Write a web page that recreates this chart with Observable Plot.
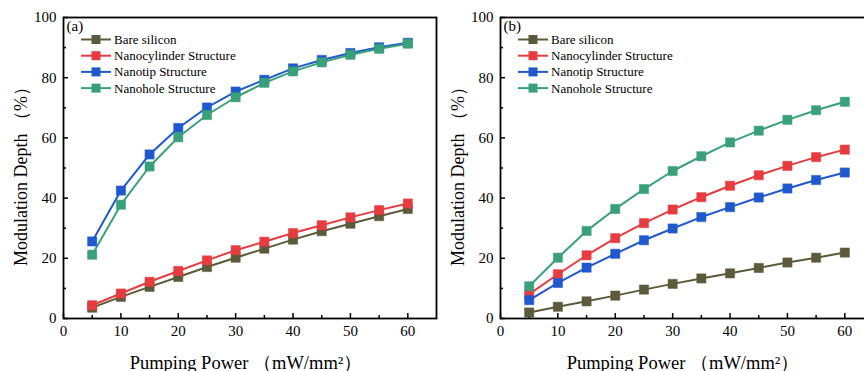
<!DOCTYPE html>
<html>
<head>
<meta charset="utf-8">
<script src="https://cdn.jsdelivr.net/npm/d3@7"></script>
<script src="https://cdn.jsdelivr.net/npm/@observablehq/plot@0.6"></script>
<style>
  html, body { margin: 0; padding: 0; background: #fff; }
  #wrap { position: relative; width: 864px; height: 371px; overflow: hidden; background: #fff; }
  .panel { position: absolute; top: 0; width: 440px; height: 371px; }
  .panel svg { max-width: none !important; }
  .legend { position: absolute; left: 0; top: 0; pointer-events: none; }
</style>
</head>
<body>
<div id="wrap">
  <div class="panel" id="pa" style="left:0px"></div>
  <div class="panel" id="pb" style="left:437px"></div>
</div>
<script>
// ---- data ----
const power = [5, 10, 15, 20, 25, 30, 35, 40, 45, 50, 55, 60];
const seriesNames = ["Bare silicon", "Nanocylinder Structure", "Nanotip Structure", "Nanohole Structure"];
const seriesColors = ["#5c5a3a", "#e63c40", "#1f59cc", "#3aa07a"];

const aBare = [3.6, 7.2, 10.5, 13.8, 17.1, 20.2, 23.2, 26.2, 29.0, 31.5, 34.0, 36.4];
const aCyl  = [4.4, 8.3, 12.2, 15.8, 19.3, 22.7, 25.5, 28.4, 31.0, 33.6, 36.0, 38.2];
const aTip  = [25.6, 42.5, 54.5, 63.3, 70.1, 75.4, 79.3, 83.1, 85.9, 88.2, 90.1, 91.6];
const aHole = [21.2, 37.8, 50.5, 60.2, 67.6, 73.5, 78.3, 82.1, 85.1, 87.6, 89.6, 91.3];

const bBare = [2.0, 3.9, 5.7, 7.6, 9.6, 11.5, 13.3, 15.0, 16.8, 18.6, 20.2, 21.9];
const bCyl  = [8.1, 14.7, 21.0, 26.7, 31.7, 36.2, 40.3, 44.1, 47.6, 50.7, 53.6, 56.1];
const bTip  = [6.1, 11.8, 16.9, 21.5, 26.0, 29.9, 33.7, 37.0, 40.2, 43.2, 46.0, 48.5];
const bHole = [10.7, 20.2, 29.1, 36.4, 43.0, 49.0, 53.9, 58.5, 62.4, 66.0, 69.2, 72.0];

const xMajorTicks = [0, 10, 20, 30, 40, 50, 60];
const xMinorTicks = [5, 15, 25, 35, 45, 55];
const yMajorTicks = [0, 20, 40, 60, 80, 100];
const yMinorTicks = [10, 30, 50, 70, 90];
const xDomain = [0, 65];
const yDomain = [0, 100];
const xLabel = "Pumping Power （mW/mm²）";
const yLabel = "Modulation Depth （%）";
const panelLabels = ["(a)", "(b)"];

// ---- build ----
const FONT = "'Liberation Serif', 'Times New Roman', serif";

function toRows(seriesArrays) {
  const rows = [];
  seriesArrays.forEach((vals, si) => {
    vals.forEach((v, i) => rows.push({x: power[i], y: v, s: seriesNames[si]}));
  });
  return rows;
}

function panel(seriesArrays, tag) {
  const rows = toRows(seriesArrays);
  return Plot.plot({
    width: 440,
    height: 371,
    marginLeft: 63,
    marginRight: 4,
    marginTop: 17,
    marginBottom: 53,
    style: {fontFamily: FONT, fontSize: "15px", color: "#000", background: "transparent", overflow: "visible", maxWidth: "none"},
    x: {domain: xDomain},
    y: {domain: yDomain},
    color: {domain: seriesNames, range: seriesColors},
    marks: [
      Plot.axisX(xMajorTicks, {tickSize: -5, tickPadding: 12, strokeWidth: 1.5, label: null, fontSize: 15}),
      Plot.axisX(xMinorTicks, {tickSize: -3, strokeWidth: 1.5, text: null, label: null}),
      Plot.axisY(yMajorTicks, {tickSize: -5, tickPadding: 12, strokeWidth: 1.5, label: null, fontSize: 15}),
      Plot.axisY(yMinorTicks, {tickSize: -3, strokeWidth: 1.5, text: null, label: null}),
      Plot.line(rows, {x: "x", y: "y", z: "s", stroke: "s", strokeWidth: 2}),
      Plot.dot(rows, {x: "x", y: "y", fill: "s", symbol: "square", r: 5.2, stroke: "s", strokeWidth: 0.5}),
      Plot.frame({strokeWidth: 1.8}),
      Plot.text([tag], {frameAnchor: "top-left", textAnchor: "start", lineAnchor: "top", dx: 3, dy: 3, fontSize: 15}),
      Plot.text([yLabel], {frameAnchor: "left", textAnchor: "middle", lineAnchor: "middle", rotate: -90, dx: -42, dy: 4, fontSize: 18}),
      Plot.text([xLabel], {frameAnchor: "bottom", textAnchor: "middle", dx: -4, dy: 50, fontSize: 18.5})
    ]
  });
}

function legend(container) {
  const svg = d3.select(container).append("svg")
    .attr("class", "legend")
    .attr("width", 300).attr("height", 100)
    .style("font-family", FONT).style("font-size", "13px");
  seriesNames.forEach((name, i) => {
    const cy = 39.5 + i * 16.2;
    svg.append("line").attr("x1", 81).attr("x2", 111).attr("y1", cy).attr("y2", cy)
      .attr("stroke", seriesColors[i]).attr("stroke-width", 2);
    svg.append("rect").attr("x", 96 - 4.5).attr("y", cy - 4.5).attr("width", 9).attr("height", 9)
      .attr("fill", seriesColors[i]);
    svg.append("text").attr("x", 114).attr("y", cy).attr("dy", "0.34em").text(name);
  });
}

const pa = document.getElementById("pa");
const pb = document.getElementById("pb");
pa.appendChild(panel([aBare, aCyl, aTip, aHole], panelLabels[0]));
legend(pa);
pb.appendChild(panel([bBare, bCyl, bTip, bHole], panelLabels[1]));
legend(pb);
</script>
</body>
</html>
